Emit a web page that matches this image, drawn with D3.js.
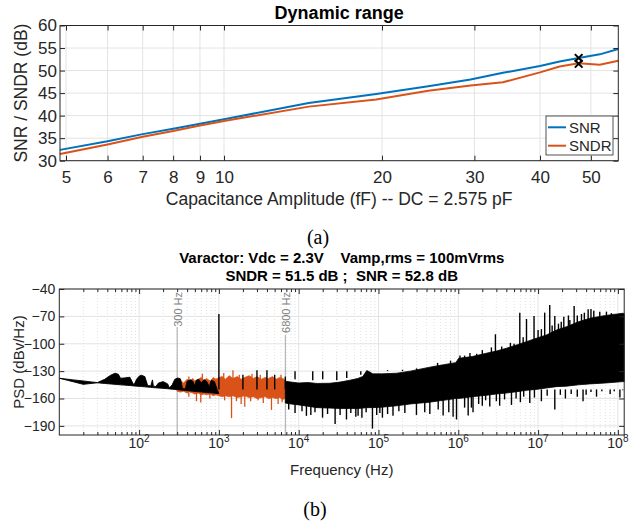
<!DOCTYPE html>
<html>
<head>
<meta charset="utf-8">
<script src="https://cdn.jsdelivr.net/npm/d3@7"></script>
<style>
body { margin: 0; background: #fff; }
svg { display: block; font-family: "Liberation Sans", Arial, sans-serif; }
</style>
</head>
<body>
<div id="root"></div>
<script>
// (a) dynamic range
const capAmp = [4.87, 6, 7, 8, 9, 10, 14.5, 19.5, 24.5, 29.5, 34, 40, 43.6, 47.4, 52, 56.4];
const snr    = [32.4, 34.3, 35.9, 37.1, 38.2, 39.2, 42.8, 44.8, 46.5, 48.0, 49.5, 51.0, 52.0, 52.8, 53.6, 54.8];
const sndr   = [31.5, 33.6, 35.3, 36.6, 37.8, 38.8, 42.0, 43.6, 45.5, 46.7, 47.4, 49.6, 50.9, 51.6, 51.3, 52.2];
const markerCap = 47.4;
const markerDb = [52.8, 51.5];
const capTicks = [5, 6, 7, 8, 9, 10, 20, 30, 40, 50];
const dbTicks = [30, 35, 40, 45, 50, 55, 60];

// (b) PSD, low frequency black trace (lobes over a thin baseline)
const lowFreq = [10, 15, 20, 25, 30, 37, 44, 50, 55, 58.5, 65, 76.5, 86, 93, 100, 107, 118, 128, 140, 147, 151, 162, 175, 200, 228, 240, 260, 280, 305, 330, 350, 380, 400, 440, 470, 500, 520, 560, 600, 650, 700, 760, 800, 880, 950, 1000];
const lowTop  = [-137.8, -139.6, -140.8, -141.8, -142.6, -139, -134.5, -132.3, -133.5, -137.8, -137.5, -136.7, -145.3, -139, -135.5, -134.5, -136, -145.8, -146.2, -139.6, -146.5, -146.8, -143, -141.5, -144, -148.5, -145, -139, -137.5, -138.5, -149, -149.5, -141, -139.5, -141, -146, -140, -139, -143, -139.5, -141, -147, -140, -141.5, -150, -154.5];
const lowBase = [-137.8, -141.7, -144.5, -143.5, -142.8, -143.5, -144.1, -144.5, -144.8, -145, -145.3, -145.8, -146.2, -146.5, -146.7, -146.9, -147.2, -147.5, -147.8, -148, -148.1, -148.3, -148.5, -148.9, -149.3, -149.5, -149.8, -150.1, -150.4, -150.7, -150.9, -151.2, -151.4, -151.8, -152, -152.2, -152.4, -152.6, -152.9, -153.1, -153.4, -153.7, -153.8, -154.2, -154.4, -154.5];

// in-band (300 Hz - 6800 Hz) orange noise
const bandFreq = [300, 330, 360, 400, 430, 470, 500, 550, 600, 650, 700, 780, 850, 920, 1000, 1100, 1200, 1350, 1500, 1700, 1900, 2100, 2400, 2700, 3000, 3400, 3800, 4200, 4700, 5200, 5800, 6300, 6800];
const bandTop = [-142, -140, -143, -139, -141, -138, -141, -139, -137, -140, -138, -141, -137, -139, -137, -136, -139, -135, -138, -136, -139, -137, -135, -138, -136, -139, -137, -138, -136, -139, -137, -138, -140];
const bandBottom = [-152, -153, -152, -154, -153, -154, -155, -154, -156, -155, -156, -155, -157, -156, -157, -158, -157, -158, -157, -159, -158, -157, -159, -158, -160, -159, -158, -160, -159, -160, -159, -161, -160];
const bandDownFreq = [420, 524, 593, 770, 1180, 1440, 1660, 1900, 2110, 2500, 3100, 3600, 4560, 5520, 6200];
const bandDownDb = [-158, -163, -164.5, -160, -162, -181.5, -163, -166, -169, -163, -162, -165, -172.5, -166, -164];
const bandUpFreq = [420, 620, 1150, 1500, 1800, 2600, 3300, 6000];
const bandUpDb = [-136, -133, -132, -129, -134, -133, -134, -134];

// tone and harmonics
const toneFreq = [1000, 2000, 3000, 4000, 5000, 6800];
const toneDb = [-67.5, -134, -129, -129, -134, -136];

// out-of-band black noise (6800 Hz - 120 MHz)
const hfFreq = [6800, 8000, 10000, 13000, 17000, 24500, 33000, 43700, 55000, 63500, 71300, 78000, 84700, 110000, 169000, 250000, 439000, 650000, 931000, 1010000, 1500000, 2250000, 3000000, 4020000, 5500000, 7160000, 9500000, 12700000, 17000000, 22700000, 32000000, 44500000, 70000000, 116000000, 120000000];
const hfTop = [-141, -142, -143, -142.5, -143.5, -143.3, -142, -140, -138, -136, -129.4, -131, -133, -133, -132.3, -130, -125.7, -123, -120.7, -116, -114, -110.4, -108, -104.9, -101, -97.7, -94, -90.4, -85, -81.3, -76, -72.1, -69, -66.6, -67];
const hfBottom = [-165, -166, -167, -168.5, -170, -170.5, -171, -171, -171, -170.5, -170, -170, -170, -169.5, -168, -166, -164, -162, -160, -160, -158, -156.5, -155, -154, -152.5, -151, -150, -148.5, -147, -146.5, -145, -144, -143, -141.5, -141.5];
const hfDownFreq = [7500, 9000, 11000, 12500, 14200, 16000, 19900, 23000, 28600, 33000, 39700, 45000, 52000, 55500, 62000, 70000, 84000, 95000, 104000, 112000, 130000, 152000, 180000, 214000, 299000, 380000, 440000, 560000, 646000, 760000, 861000, 950000, 1200000, 1330000, 1460000, 1530000, 1800000, 2000000, 2200000, 2480000, 3000000, 3300000, 3800000, 4640000, 5300000, 6000000, 6600000, 7870000, 9000000, 11000000, 13000000, 16200000, 19000000, 22000000, 26000000, 31000000, 36600000, 40000000, 46000000, 54000000, 63000000, 80000000, 90000000, 106000000, 115000000];
const hfDownDb = [-172, -176, -174, -179, -178, -175, -181, -177, -188, -178, -183, -176, -180, -179, -181, -175, -193, -178, -176, -181, -177, -179, -174, -176, -178, -175, -177, -172, -178.6, -175, -180, -183, -170, -178.6, -170, -175, -166, -168, -162, -168.8, -163, -168, -161, -167, -160, -164, -158, -165, -159, -163, -157, -172, -156, -160, -155, -158, -163, -156, -153, -158, -152, -155, -152, -159, -151];
const hfUpFreq = [9000, 15000, 20000, 30000, 40000, 60000, 130000, 200000, 300000, 550000, 800000, 1050000, 1200000, 1400000, 1700000, 2000000, 2600000, 2920000, 3500000, 4500000, 5000000, 5900000, 6500000, 7160000, 8900000, 10000000, 11000000, 12100000, 14000000, 15000000, 16200000, 18000000, 19500000, 21000000, 24000000, 25000000, 28300000, 31000000, 35000000, 38000000, 42400000, 46000000, 49900000, 59300000, 71900000, 83000000, 106000000];
const hfUpDb = [-139, -140, -139, -140, -137.5, -134, -129, -128.5, -127, -121, -118.5, -113, -113, -110, -111, -107, -104, -89.6, -103, -99, -100, -65.9, -93, -72.9, -69.6, -85, -84, -65.9, -57.5, -80, -69.6, -78, -76, -70.3, -69, -74, -58.6, -69, -67.4, -66, -62.3, -62, -63.7, -64.8, -64.8, -66.4, -67];

const psdTicks = [-190, -160, -130, -100, -70, -40];
const freqTicks = [1e2, 1e3, 1e4, 1e5, 1e6, 1e7, 1e8];
const bandEdges = [300, 6800];
const bandLabels = ['300 Hz', '6800 Hz'];

const ink = '#262626';
const blue = '#0072BD';
const orange = '#D95319';

const svg = d3.select('#root').append('svg')
    .attr('width', 636)
    .attr('height', 523);

const styleAxis = (g, size) => {
    g.attr('font-family', null).attr('font-size', size);
    g.select('.domain').remove();
    g.selectAll('line').attr('stroke', ink);
    g.selectAll('text').attr('fill', ink);
};

// ---------- (a) ----------
const a = { left: 60, right: 618.3, top: 25.5, bottom: 160.7 };
const xC = d3.scaleLog().domain([4.87, 56.4]).range([a.left, a.right]);
const yC = d3.scaleLinear().domain([30, 60]).range([a.bottom, a.top]);

// grid
svg.append('g').selectAll('line').data(capTicks).join('line')
    .attr('x1', d => xC(d)).attr('x2', d => xC(d))
    .attr('y1', a.top).attr('y2', a.bottom)
    .attr('stroke', '#e3e3e3');
svg.append('g').selectAll('line').data(dbTicks).join('line')
    .attr('x1', a.left).attr('x2', a.right)
    .attr('y1', d => yC(d)).attr('y2', d => yC(d))
    .attr('stroke', '#e3e3e3');

const capLine = (vals) => d3.line()
    .x((d, i) => xC(capAmp[i]))
    .y(d => yC(d))(vals);

svg.append('path').attr('d', capLine(snr))
    .attr('fill', 'none').attr('stroke', blue).attr('stroke-width', 2);
svg.append('path').attr('d', capLine(sndr))
    .attr('fill', 'none').attr('stroke', orange).attr('stroke-width', 2);

svg.append('g').selectAll('path').data(markerDb).join('path')
    .attr('d', d3.symbol(d3.symbolX, 40))
    .attr('transform', d => `translate(${xC(markerCap)},${yC(d)})`)
    .attr('fill', 'none').attr('stroke', '#000').attr('stroke-width', 2);

// axes (ticks inside, MATLAB style box)
svg.append('g').attr('transform', `translate(0,${a.bottom})`)
    .call(d3.axisBottom(xC).tickValues(capTicks).tickFormat(d3.format('d'))
        .tickSizeInner(-5).tickSizeOuter(0).tickPadding(10))
    .call(g => styleAxis(g, 17));
svg.append('g').attr('transform', `translate(0,${a.top})`)
    .call(d3.axisTop(xC).tickValues(capTicks).tickFormat('')
        .tickSizeInner(-5).tickSizeOuter(0))
    .call(g => styleAxis(g, 17));
svg.append('g').attr('transform', `translate(${a.left},0)`)
    .call(d3.axisLeft(yC).tickValues(dbTicks)
        .tickSizeInner(-5).tickSizeOuter(0).tickPadding(3))
    .call(g => styleAxis(g, 17));
svg.append('g').attr('transform', `translate(${a.right},0)`)
    .call(d3.axisRight(yC).tickValues(dbTicks).tickFormat('')
        .tickSizeInner(-5).tickSizeOuter(0))
    .call(g => styleAxis(g, 17));
svg.append('rect')
    .attr('x', a.left).attr('y', a.top)
    .attr('width', a.right - a.left).attr('height', a.bottom - a.top)
    .attr('fill', 'none').attr('stroke', ink);

// legend
const legend = svg.append('g').attr('transform', 'translate(546,116)');
legend.append('rect').attr('width', 67).attr('height', 39)
    .attr('fill', '#fff').attr('stroke', ink).attr('stroke-width', 0.8);
[['SNR', blue, 11.3], ['SNDR', orange, 29.7]].forEach(([name, col, yy]) => {
    legend.append('line').attr('x1', 2).attr('x2', 20).attr('y1', yy).attr('y2', yy)
        .attr('stroke', col).attr('stroke-width', 2);
    legend.append('text').attr('x', 23).attr('y', yy).attr('dy', '0.35em')
        .attr('font-size', 15).attr('fill', ink).text(name);
});

// titles
svg.append('text').text('Dynamic range')
    .attr('x', (a.left + a.right) / 2).attr('y', 13).attr('dy', '0.35em')
    .attr('text-anchor', 'middle').attr('font-weight', 'bold').attr('font-size', 18).attr('fill', '#000');
svg.append('text').text('Capacitance Amplitude (fF) -- DC = 2.575 pF')
    .attr('x', (a.left + a.right) / 2).attr('y', 199).attr('dy', '0.35em')
    .attr('text-anchor', 'middle').attr('font-size', 17.5).attr('fill', ink);
svg.append('text').text('SNR / SNDR (dB)')
    .attr('transform', `translate(21,${(a.top + a.bottom) / 2}) rotate(-90)`)
    .attr('dy', '0.35em')
    .attr('text-anchor', 'middle').attr('font-size', 17.5).attr('fill', ink);
svg.append('text').text('(a)')
    .attr('x', 318).attr('y', 237).attr('dy', '0.35em')
    .attr('text-anchor', 'middle').attr('font-family', '"Liberation Serif", "Times New Roman", serif')
    .attr('font-size', 20).attr('fill', '#000');

// ---------- (b) ----------
const b = { left: 59.3, right: 624.2, top: 289, bottom: 435 };
const xF = d3.scaleLog().domain([10, 1.2e8]).range([b.left, b.right]);
const yP = d3.scaleLinear().domain([-200, -40]).range([b.bottom, b.top]);

const minorTicks = [];
freqTicks.concat([10]).forEach(dec => {
    for (let k = 2; k <= 9; k++) {
        const v = dec * k;
        if (v > 10 && v < 1.2e8) minorTicks.push(v);
    }
});

// grid
svg.append('g').selectAll('line').data(minorTicks).join('line')
    .attr('x1', d => xF(d)).attr('x2', d => xF(d))
    .attr('y1', b.top).attr('y2', b.bottom)
    .attr('stroke', '#cfcfcf').attr('stroke-width', 0.6).attr('stroke-dasharray', '1,2');
svg.append('g').selectAll('line').data(freqTicks).join('line')
    .attr('x1', d => xF(d)).attr('x2', d => xF(d))
    .attr('y1', b.top).attr('y2', b.bottom)
    .attr('stroke', '#e3e3e3');
svg.append('g').selectAll('line').data(psdTicks).join('line')
    .attr('x1', b.left).attr('x2', b.right)
    .attr('y1', d => yP(d)).attr('y2', d => yP(d))
    .attr('stroke', '#e3e3e3');

// band edge markers
svg.append('g').selectAll('line').data(bandEdges).join('line')
    .attr('x1', d => xF(d)).attr('x2', d => xF(d))
    .attr('y1', (d, i) => i === 0 ? 327 : 335).attr('y2', b.bottom)
    .attr('stroke', '#a8a8a8').attr('stroke-width', 1);
svg.append('g').selectAll('text').data(bandEdges).join('text')
    .attr('transform', d => `translate(${xF(d) + 0.5},292) rotate(-90)`)
    .attr('dy', '0.35em').attr('text-anchor', 'end')
    .attr('font-size', 11).attr('fill', '#808080')
    .text((d, i) => bandLabels[i]);

const spikes = (freqs, tips, base, col, width) => svg.append('g')
    .selectAll('line').data(freqs).join('line')
    .attr('x1', d => xF(d)).attr('x2', d => xF(d))
    .attr('y1', yP(base))
    .attr('y2', (d, i) => yP(tips[i]))
    .attr('stroke', col).attr('stroke-width', width);

// in-band orange
svg.append('path')
    .attr('d', d3.area()
        .x((d, i) => xF(bandFreq[i]))
        .y0((d, i) => yP(bandBottom[i]))
        .y1(d => yP(d))(bandTop))
    .attr('fill', orange).attr('stroke', orange).attr('stroke-width', 0.8);
spikes(bandDownFreq, bandDownDb, -154, orange, 1.3);
spikes(bandUpFreq, bandUpDb, -145, orange, 1.3);

// low frequency black trace
svg.append('path')
    .attr('d', d3.area()
        .x((d, i) => xF(lowFreq[i]))
        .y0((d, i) => yP(lowBase[i]))
        .y1(d => yP(d))(lowTop))
    .attr('fill', '#000').attr('stroke', '#000').attr('stroke-width', 0.9);

// out-of-band black noise
svg.append('path')
    .attr('d', d3.area()
        .x((d, i) => xF(hfFreq[i]))
        .y0((d, i) => yP(hfBottom[i]))
        .y1(d => yP(d))(hfTop))
    .attr('fill', '#000').attr('stroke', '#000').attr('stroke-width', 0.8);
spikes(hfDownFreq, hfDownDb, -150, '#000', 1.4);
spikes(hfUpFreq, hfUpDb, -130, '#000', 1.4);
spikes(toneFreq, toneDb, -150, '#000', 1.4);

// axes
svg.append('g').attr('transform', `translate(0,${b.bottom})`)
    .call(d3.axisBottom(xF).tickValues(freqTicks).tickFormat('')
        .tickSizeInner(-5).tickSizeOuter(0))
    .call(g => styleAxis(g, 14));
svg.append('g').attr('transform', `translate(0,${b.bottom})`)
    .call(d3.axisBottom(xF).tickValues(minorTicks).tickFormat('')
        .tickSizeInner(-3).tickSizeOuter(0))
    .call(g => styleAxis(g, 14));
svg.append('g').attr('transform', `translate(0,${b.top})`)
    .call(d3.axisTop(xF).tickValues(freqTicks).tickFormat('')
        .tickSizeInner(-5).tickSizeOuter(0))
    .call(g => styleAxis(g, 14));
svg.append('g').attr('transform', `translate(0,${b.top})`)
    .call(d3.axisTop(xF).tickValues(minorTicks).tickFormat('')
        .tickSizeInner(-3).tickSizeOuter(0))
    .call(g => styleAxis(g, 14));
svg.append('g').attr('transform', `translate(${b.left},0)`)
    .call(d3.axisLeft(yP).tickValues(psdTicks)
        .tickSizeInner(-5).tickSizeOuter(0).tickPadding(4))
    .call(g => styleAxis(g, 14));
svg.append('g').attr('transform', `translate(${b.right},0)`)
    .call(d3.axisRight(yP).tickValues(psdTicks).tickFormat('')
        .tickSizeInner(-5).tickSizeOuter(0))
    .call(g => styleAxis(g, 14));
svg.append('rect')
    .attr('x', b.left).attr('y', b.top)
    .attr('width', b.right - b.left).attr('height', b.bottom - b.top)
    .attr('fill', 'none').attr('stroke', ink);

// 10^n labels
svg.append('g').selectAll('text').data(freqTicks).join('text')
    .attr('x', d => xF(d)).attr('y', 448)
    .attr('text-anchor', 'middle').attr('font-size', 14).attr('fill', ink)
    .each(function (d) {
        const t = d3.select(this);
        t.append('tspan').text('10');
        t.append('tspan').attr('dy', -6).attr('font-size', 10).text(Math.round(Math.log10(d)));
    });

// titles
const bx = (b.left + b.right) / 2;
svg.append('text').text('Varactor: Vdc = 2.3V    Vamp,rms = 100mVrms')
    .attr('x', bx).attr('y', 258).attr('dy', '0.35em')
    .style('white-space', 'pre')
    .attr('text-anchor', 'middle').attr('font-weight', 'bold').attr('font-size', 15).attr('fill', '#000');
svg.append('text').text('SNDR = 51.5 dB ;  SNR = 52.8 dB')
    .attr('x', bx).attr('y', 276).attr('dy', '0.35em')
    .style('white-space', 'pre')
    .attr('text-anchor', 'middle').attr('font-weight', 'bold').attr('font-size', 15).attr('fill', '#000');
svg.append('text').text('Frequency (Hz)')
    .attr('x', bx).attr('y', 470).attr('dy', '0.35em')
    .attr('text-anchor', 'middle').attr('font-size', 15).attr('fill', ink);
svg.append('text').text('PSD (dBv/Hz)')
    .attr('transform', `translate(19,${(b.top + b.bottom) / 2}) rotate(-90)`)
    .attr('dy', '0.35em')
    .attr('text-anchor', 'middle').attr('font-size', 15).attr('fill', ink);
svg.append('text').text('(b)')
    .attr('x', 315).attr('y', 509).attr('dy', '0.35em')
    .attr('text-anchor', 'middle').attr('font-family', '"Liberation Serif", "Times New Roman", serif')
    .attr('font-size', 20).attr('fill', '#000');
</script>
</body>
</html>
